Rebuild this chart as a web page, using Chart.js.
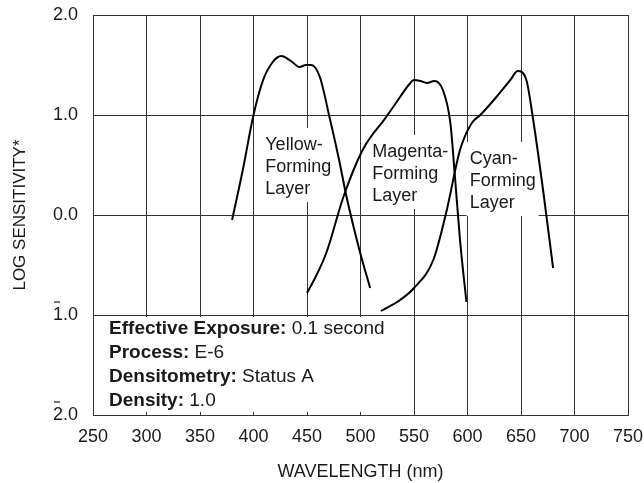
<!DOCTYPE html>
<html>
<head>
<meta charset="utf-8">
<script src="https://cdn.jsdelivr.net/npm/chart.js@4/dist/chart.umd.min.js"></script>
<style>
  html, body { margin: 0; padding: 0; background: #fff; }
  #wrap { width: 644px; height: 483px; }
</style>
</head>
<body>
<div id="wrap"><canvas id="sensChart"></canvas></div>
<script>
// ========== DATA ==========
const xTicks = [250, 300, 350, 400, 450, 500, 550, 600, 650, 700, 750];
const yTicks = [-2, -1, 0, 1, 2];

const yellowNm  = [380, 390, 400, 409, 418, 426, 435, 443, 449, 454, 462, 471, 480, 487, 499, 509];
const yellowLog = [-0.05, 0.45, 1.0, 1.35, 1.53, 1.59, 1.54, 1.48, 1.50, 1.50, 1.38, 0.98, 0.55, 0.18, -0.35, -0.73];

const magentaNm  = [450, 458, 468, 484, 502, 524, 537, 545, 550, 556, 562, 569, 577, 584, 588, 593, 599];
const magentaLog = [-0.78, -0.62, -0.38, 0.18, 0.65, 0.98, 1.18, 1.30, 1.35, 1.34, 1.32, 1.34, 1.25, 0.92, 0.42, -0.25, -0.87];

const cyanNm  = [519, 537, 550, 568, 580, 593, 604, 612, 627, 640, 647, 655, 661, 671, 680];
const cyanLog = [-0.96, -0.85, -0.73, -0.45, 0.02, 0.65, 0.92, 1.0, 1.18, 1.35, 1.44, 1.35, 0.98, 0.22, -0.53];

const layerLabels = [
  { nm: 411, log: 0.79, lines: ['Yellow-', 'Forming', 'Layer'] },
  { nm: 511, log: 0.72, lines: ['Magenta-', 'Forming', 'Layer'] },
  { nm: 602, log: 0.65, lines: ['Cyan-', 'Forming', 'Layer'] }
];

const infoRows = [
  ['Effective Exposure:', ' 0.1 second'],
  ['Process:', ' E-6'],
  ['Densitometry:', ' Status A'],
  ['Density:', ' 1.0']
];

const FONT = '"Liberation Sans", Arial, Helvetica, sans-serif';
const INK = '#1a1a1a';

function pts(xs, ys) {
  return xs.map((x, i) => ({ x: x, y: ys[i] }));
}

function curve(xs, ys) {
  return {
    data: pts(xs, ys),
    borderColor: '#000',
    borderWidth: 2,
    pointRadius: 0,
    tension: 0.4,
    cubicInterpolationMode: 'monotone',
    fill: false
  };
}

// ========== PLUGIN: labels, info box, overbars ==========
const decorations = {
  id: 'decorations',
  beforeDatasetsDraw(chart) {
    const { ctx, scales: { x, y } } = chart;
    ctx.save();
    ctx.fillStyle = '#fff';
    ctx.font = '18px ' + FONT;
    // white boxes behind layer labels
    layerLabels.forEach(l => {
      const px = x.getPixelForValue(l.nm);
      const py = y.getPixelForValue(l.log);
      const w = Math.max(...l.lines.map(s => ctx.measureText(s).width));
      ctx.fillRect(px - 3, py - 8, w + 6, 74);
    });
    // white box behind info text
    const left = x.getPixelForValue(250) + 1;
    const top = y.getPixelForValue(-1) + 2;
    const bottom = y.getPixelForValue(-2) - 3;
    ctx.fillRect(left, top, x.getPixelForValue(535) - left, bottom - top);
    ctx.restore();
  },
  afterDatasetsDraw(chart) {
    const { ctx, scales: { x, y } } = chart;
    ctx.save();
    ctx.fillStyle = INK;
    ctx.textBaseline = 'top';
    ctx.font = '18px ' + FONT;
    layerLabels.forEach(l => {
      const px = x.getPixelForValue(l.nm);
      const py = y.getPixelForValue(l.log);
      l.lines.forEach((s, i) => ctx.fillText(s, px, py + i * 22));
    });
    // info text
    const ix = x.getPixelForValue(265);
    let iy = y.getPixelForValue(-1) + 4;
    infoRows.forEach(r => {
      ctx.font = 'bold 19px ' + FONT;
      ctx.fillText(r[0], ix, iy);
      const w = ctx.measureText(r[0]).width;
      ctx.font = '19px ' + FONT;
      ctx.fillText(r[1], ix + w, iy);
      iy += 24;
    });
    // overbars on negative tick labels
    ctx.strokeStyle = INK;
    ctx.lineWidth = 1.2;
    ctx.font = '18px ' + FONT;
    y.ticks.forEach(t => {
      if (t.value < 0) {
        const label = Math.abs(t.value).toFixed(1);
        const w = ctx.measureText(label).width;
        const right = x.left - 15;
        const py = y.getPixelForValue(t.value);
        ctx.beginPath();
        ctx.moveTo(right - w + 1, py - 13);
        ctx.lineTo(right - w + 7, py - 13);
        ctx.stroke();
      }
    });
    ctx.restore();
  }
};

// ========== LINE CHART: Spectral Sensitivity ==========
const sensChart = new Chart(document.getElementById('sensChart'), {
  type: 'line',
  data: {
    datasets: [
      curve(yellowNm, yellowLog),
      curve(magentaNm, magentaLog),
      curve(cyanNm, cyanLog)
    ]
  },
  options: {
    responsive: true,
    maintainAspectRatio: false,
    animation: false,
    layout: { padding: { top: 15, right: 16, left: 0, bottom: 0 } },
    plugins: {
      legend: { display: false },
      tooltip: { enabled: false }
    },
    scales: {
      x: {
        type: 'linear',
        min: 250,
        max: 750,
        afterBuildTicks: s => { s.ticks = xTicks.map(v => ({ value: v })); },
        afterFit: s => {
          s.height = 68;
          s.paddingLeft = 0;
          s.paddingRight = 0;
        },
        grid: { color: '#333', lineWidth: 1, drawTicks: false },
        border: { color: '#333', width: 1 },
        ticks: {
          color: INK,
          font: { family: FONT, size: 18 },
          padding: 11,
          maxRotation: 0,
          autoSkip: false
        },
        title: {
          display: true,
          text: 'WAVELENGTH (nm)',
          color: INK,
          font: { family: FONT, size: 18 },
          padding: { top: 0, bottom: 0 }
        }
      },
      y: {
        type: 'linear',
        min: -2,
        max: 2,
        afterBuildTicks: s => { s.ticks = yTicks.map(v => ({ value: v })); },
        afterFit: s => {
          s.width = 93;
          s.paddingTop = 0;
          s.paddingBottom = 0;
        },
        grid: { color: '#333', lineWidth: 1, drawTicks: false },
        border: { color: '#333', width: 1 },
        ticks: {
          color: INK,
          font: { family: FONT, size: 18 },
          padding: 15,
          callback: v => Math.abs(v).toFixed(1)
        },
        title: {
          display: true,
          text: 'LOG SENSITIVITY*',
          color: INK,
          font: { family: FONT, size: 17 },
          padding: { top: 10, bottom: 0 }
        }
      }
    }
  },
  plugins: [decorations]
});
</script>
</body>
</html>
